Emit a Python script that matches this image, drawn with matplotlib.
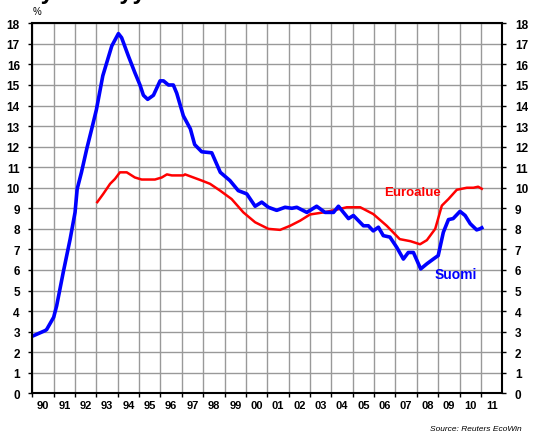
import numpy as np
import matplotlib.pyplot as plt

plt.rcParams['font.family'] = ['Liberation Sans', 'DejaVu Sans']

# Suomi (blue) - luettu kuvasta
suomi_t = [1990.05, 1990.6, 1990.67, 1991.0, 1991.14, 1991.45, 1991.77, 1992.0, 1992.1, 1992.3,
           1992.55, 1992.78, 1993.0, 1993.3, 1993.72, 1994.03, 1994.18, 1994.5, 1994.8, 1995.04,
           1995.2, 1995.4, 1995.67, 1995.98, 1996.14, 1996.37, 1996.6, 1996.76, 1997.07, 1997.4,
           1997.6, 1997.93, 1998.4, 1998.8, 1999.25, 1999.64, 2000.04, 2000.43, 2000.74, 2001.05,
           2001.44, 2001.83, 2002.15, 2002.38, 2002.85, 2003.31, 2003.7, 2004.1, 2004.33, 2004.8,
           2005.03, 2005.5, 2005.73, 2005.96, 2006.2, 2006.43, 2006.74, 2007.06, 2007.37, 2007.6,
           2007.84, 2008.18, 2008.47, 2008.77, 2009.0, 2009.24, 2009.48, 2009.7, 2010.02, 2010.26,
           2010.5, 2010.8, 2010.95, 2011.04]
suomi_v = [2.8, 3.05, 3.1, 3.7, 4.26, 5.9, 7.5, 8.8, 9.94, 10.75,
           11.9, 12.86, 13.8, 15.45, 16.9, 17.5, 17.3, 16.4, 15.6, 15.0,
           14.5, 14.3, 14.5, 15.2, 15.2, 15.0, 15.0, 14.6, 13.5, 12.86,
           12.1, 11.75, 11.7, 10.75, 10.35, 9.86, 9.7, 9.1, 9.3, 9.05,
           8.9, 9.05, 9.0, 9.05, 8.8, 9.1, 8.8, 8.8, 9.1, 8.5,
           8.65, 8.15, 8.15, 7.9, 8.08, 7.67, 7.6, 7.1, 6.53, 6.85,
           6.85, 6.05, 6.3, 6.53, 6.7, 7.83, 8.45, 8.5, 8.85, 8.65,
           8.25, 7.95, 8.0, 8.05]

# Euroalue (red)
euro_t = [1993.04, 1993.32, 1993.64, 1993.87, 1994.1, 1994.42, 1994.8, 1995.12, 1995.74, 1996.06,
          1996.3, 1996.53, 1997.07, 1997.15, 1997.54, 1997.93, 1998.32, 1998.79, 1999.33, 1999.88,
          2000.43, 2001.05, 2001.6, 2002.07, 2002.54, 2003.0, 2003.63, 2004.1, 2004.72, 2005.35,
          2005.96, 2006.59, 2007.2, 2007.7, 2008.15, 2008.47, 2008.86, 2009.17, 2009.48, 2009.87,
          2010.34, 2010.65, 2010.87, 2011.04]
euro_v = [9.3, 9.7, 10.19, 10.43, 10.75, 10.75, 10.5, 10.4, 10.4, 10.5,
          10.65, 10.6, 10.6, 10.65, 10.5, 10.35, 10.19, 9.86, 9.45, 8.8,
          8.32, 8.0, 7.95, 8.15, 8.4, 8.7, 8.8, 8.9, 9.05, 9.05,
          8.72, 8.15, 7.5, 7.4, 7.25, 7.45, 8.0, 9.13, 9.45, 9.9,
          10.0, 10.0, 10.05, 9.95]

years = np.arange(1990, 2012)
year_labels = ['%02d' % (y % 100) for y in years]

fig = plt.figure(figsize=(5.36, 4.35), dpi=100)
ax = fig.add_axes([0.0603, 0.0936, 0.8768, 0.8505])

ax.set_xlim(1990, 2012)
ax.set_ylim(0, 18)

ax.set_xticks(years, minor=False)
ax.set_xticklabels([])
ax.set_xticks(years + 0.5, minor=True)
ax.set_xticklabels(year_labels, minor=True, fontsize=8, fontweight='bold')
ax.tick_params(axis='x', which='major', direction='out', length=3, width=1)
ax.tick_params(axis='x', which='minor', length=0, pad=5)

ax.set_yticks(np.arange(0, 19, 1))
ax.set_yticklabels([str(v) for v in range(19)], fontsize=8.5, fontweight='bold')
ax.tick_params(axis='y', which='both', direction='out', length=3, width=1,
               left=True, right=True, labelleft=True, labelright=True, pad=6)

ax.grid(True, which='major', color='#999999', linewidth=1)
ax.set_axisbelow(True)
for s in ax.spines.values():
    s.set_linewidth(1.5)

ax.plot(euro_t, euro_v, color='#ff0000', linewidth=1.8)
ax.plot(suomi_t, suomi_v, color='#0000ff', linewidth=2.6)

ax.text(2007.82, 9.8, 'Euroalue', color='#ff0000', fontsize=9.5, fontweight='bold',
        ha='center', va='center')
ax.text(2009.82, 5.8, 'Suomi', color='#0000ff', fontsize=10, fontweight='bold',
        ha='center', va='center')

fig.text(37 / 536, 1 - 12 / 435, '%', fontsize=7, ha='center', va='center')
fig.text(29 / 536, 1 + 0.5 / 435, 'Työttömyysaste', fontsize=17, fontweight='bold',
         ha='left', va='baseline')
fig.text(522 / 536, 1 - 430 / 435, 'Source: Reuters EcoWin', fontsize=6, style='italic',
         ha='right', va='center')

fig.savefig('out.png', dpi=100)
